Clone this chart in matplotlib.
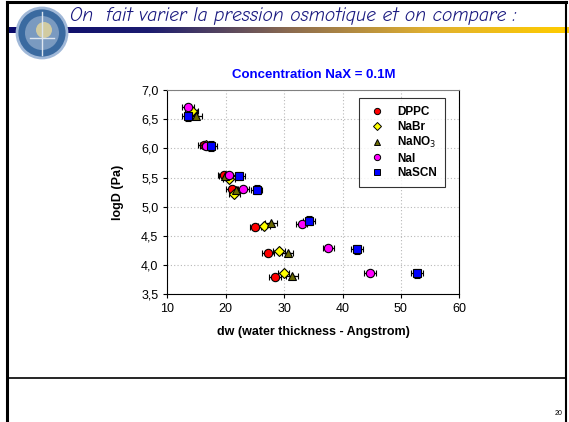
import numpy as np
import matplotlib
matplotlib.use("Agg")
import matplotlib.pyplot as plt
from matplotlib.patches import Circle
from matplotlib.lines import Line2D
from matplotlib.colors import LinearSegmentedColormap

plt.rcParams['font.family'] = ['Liberation Sans', 'DejaVu Sans']

# ---- data ----
series_names = ["DPPC", "NaBr", "NaNO$_3$", "NaI", "NaSCN"]
dppc_x = [14.0, 16.2, 19.7, 21.1, 25.1, 27.3, 28.4]
dppc_y = [6.62, 6.05, 5.55, 5.30, 4.65, 4.21, 3.80]
nabr_x = [14.3, 16.6, 20.6, 21.5, 26.6, 29.1, 29.9]
nabr_y = [6.64, 6.05, 5.47, 5.21, 4.67, 4.24, 3.86]
nano3_x = [14.9, 16.8, 19.9, 21.7, 27.7, 30.6, 31.4]
nano3_y = [6.56, 6.05, 5.52, 5.28, 4.72, 4.21, 3.81]
nai_x = [13.5, 16.6, 20.6, 23.0, 33.0, 37.6, 44.7]
nai_y = [6.71, 6.04, 5.55, 5.30, 4.71, 4.30, 3.86]
nascn_x = [13.6, 17.5, 22.3, 25.3, 34.3, 42.5, 52.8]
nascn_y = [6.56, 6.04, 5.53, 5.29, 4.76, 4.27, 3.86]
xerr_val = 1.0
yerr_vals = [0.0, 0.0, 0.0, 0.0, 0.0, 0.0, 0.0]
nascn_yerr = [0.09, 0.08, 0.07, 0.08, 0.08, 0.08, 0.08]
xticks = [10, 20, 30, 40, 50, 60]
yticks = [3.5, 4.0, 4.5, 5.0, 5.5, 6.0, 6.5, 7.0]
ytick_labels = ["3,5", "4,0", "4,5", "5,0", "5,5", "6,0", "6,5", "7,0"]

series = [
    (dppc_x, dppc_y, yerr_vals, 'o', '#ff0000', 6),
    (nabr_x, nabr_y, yerr_vals, 'D', '#ffff00', 5.5),
    (nano3_x, nano3_y, yerr_vals, '^', '#6b6b00', 6),
    (nai_x, nai_y, yerr_vals, 'o', '#ff00ff', 6),
    (nascn_x, nascn_y, nascn_yerr, 's', '#0000ff', 6),
]

W, H = 569, 422
fig = plt.figure(figsize=(W / 100, H / 100), dpi=100)

# ---- slide decoration ----
deco = fig.add_axes([0, 0, 1, 1])
deco.set_xlim(0, W)
deco.set_ylim(H, 0)
deco.axis('off')
cmap = LinearSegmentedColormap.from_list('g', ['#0a0a6a', '#1c1c70', '#8a6a50', '#e0b030', '#ffcc00'])
grad = np.linspace(0, 1, 256).reshape(1, -1)
deco.imshow(grad, cmap=cmap, extent=[8, W, 33, 27], aspect='auto', zorder=1)
deco.plot([7.5, 7.5], [2, H], color='black', lw=2.2, zorder=3)
deco.plot([7, W - 3], [2, 2], color='black', lw=2.2, zorder=3)
deco.plot([W - 3, W - 3], [2, H], color='black', lw=1.5, zorder=3)
deco.plot([7, W - 3], [378, 378], color='black', lw=1.2, zorder=3)
# logo
deco.add_patch(Circle((42, 33), 25, facecolor='#3a6aa0', edgecolor='#a0b8d8', lw=2, zorder=4))
deco.add_patch(Circle((42, 33), 17, facecolor='#7a9ac0', edgecolor='none', zorder=5))
deco.add_patch(Circle((44, 30), 8, facecolor='#e8d89a', edgecolor='none', alpha=0.8, zorder=6))
deco.plot([42, 42], [12, 55], color='#dde6f0', lw=1, zorder=7)
deco.plot([30, 54], [38, 38], color='#dde6f0', lw=1, zorder=7)
deco.text(70, 16, "On  fait varier la pression osmotique et on compare :",
          fontsize=14, style='italic', color='#1a1a80',
          family=['Comic Neue', 'DejaVu Sans'], va='center', ha='left', zorder=8)
deco.text(562, 417, "20", fontsize=5, ha='right', va='bottom', color='black')

# ---- chart ----
ax = fig.add_axes([167.3 / W, 1 - 294.3 / H, 292 / W, 204.3 / H])
for (xs, ys, ye, m, c, ms), name in zip(series, series_names):
    ax.errorbar(xs, ys, xerr=xerr_val, yerr=ye, fmt=m, color='black',
                mfc=c, mec='black', mew=0.8, ms=ms, elinewidth=0.9,
                capsize=2.5, capthick=0.9, label=name, zorder=3)
ax.set_xlim(10, 60)
ax.set_ylim(3.5, 7.0)
ax.set_xticks(xticks)
ax.set_yticks(yticks)
ax.set_yticklabels(ytick_labels)
ax.tick_params(labelsize=9, length=3, direction='out', width=0.8)
ax.grid(True, linestyle=(0, (1, 2)), color='#b8b8b8', lw=0.8)
ax.set_axisbelow(True)
ax.spines['top'].set_color('#808080')
for s in ['left', 'bottom', 'right']:
    ax.spines[s].set_color('black')
ax.set_title("Concentration NaX = 0.1M", fontsize=9.5, fontweight='bold', color='#0000ff', pad=9)
ax.set_xlabel("dw (water thickness - Angstrom)", fontsize=9, fontweight='bold', labelpad=8)
ax.set_ylabel("logD (Pa)", fontsize=9, fontweight='bold', labelpad=12)

handles = [Line2D([], [], marker=m, ls='none', mfc=c, mec='black', mew=0.7, ms=ms * 0.75)
           for (xs, ys, ye, m, c, ms) in series]
leg = ax.legend(handles, series_names, loc='upper left', bbox_to_anchor=(0.657, 0.96),
                frameon=True, fancybox=False, edgecolor='black',
                prop={'weight': 'bold', 'size': 8.5}, handletextpad=0.9, borderpad=0.7,
                labelspacing=0.2, handlelength=1.6, borderaxespad=0)
leg.get_frame().set_linewidth(0.8)

fig.savefig("out.png", dpi=100)
